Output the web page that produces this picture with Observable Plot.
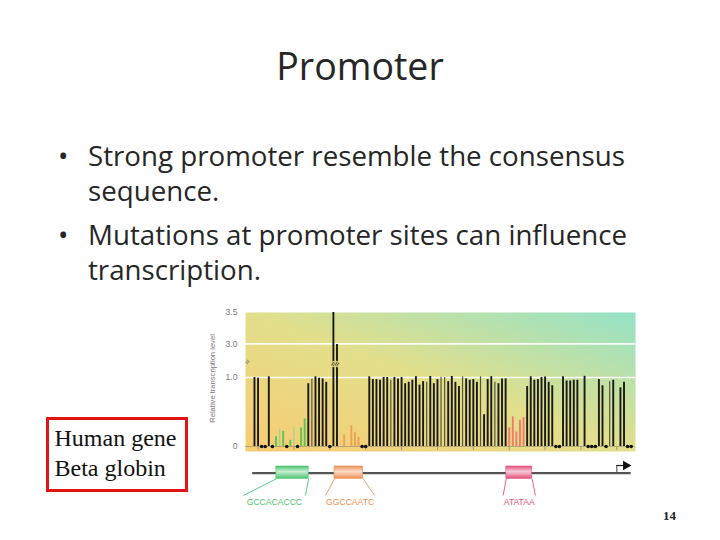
<!DOCTYPE html>
<html><head><meta charset="utf-8">
<script src="https://cdn.jsdelivr.net/npm/d3@7"></script>
<script src="https://cdn.jsdelivr.net/npm/@observablehq/plot@0.6"></script>
<style>
body{margin:0;width:720px;height:540px;position:relative;background:#fff;overflow:hidden;font-family:"Open Sans",sans-serif;color:#262626;}
#title{position:absolute;left:0;width:720px;top:46.7px;text-align:center;font-size:37.5px;line-height:37.5px;}
.bl{position:absolute;left:88px;font-size:27.7px;line-height:35px;white-space:nowrap;}
.bl .dot{position:absolute;left:-30px;top:0;}
#box{position:absolute;left:46px;top:417px;width:142px;height:75px;box-sizing:border-box;border:3.5px solid #e01414;font-family:"Liberation Serif",serif;font-size:24px;line-height:30px;padding:3px 0 0 5.5px;color:#111;white-space:nowrap;}
#chart{position:absolute;left:200px;top:300px;}
#gene{position:absolute;left:200px;top:452px;}
#pg{position:absolute;left:663px;top:509px;font-family:"Liberation Serif",serif;font-weight:bold;font-size:13px;line-height:13px;color:#222;}
</style></head>
<body>
<div id="title">Promoter</div>
<div class="bl" style="top:138.3px"><span class="dot">•</span>Strong promoter resemble the consensus<br>sequence.</div>
<div class="bl" style="top:216.6px"><span class="dot">•</span>Mutations at promoter sites can influence<br>transcription.</div>
<div id="box">Human gene<br>Beta globin</div>
<div id="chart"></div>
<div id="gene"></div>
<div id="pg">14</div>
<script>
// ---- data ----
// nucleotide positions upstream of the beta-globin transcription start
const positions = d3.range(-101, 5);
// relative transcription level of each point mutant (null = no bar)
const levels = [
  1.00, 0.99, null, null, 1.04, null, 0.14, 0.25, 0.22, null,
  0.09, 0.27, null, 0.27, 0.40, 0.91, 0.98, 1.04, 0.99, 0.98,
  0.93, null, 3.50, 2.96, 0.06, 0.17, 0.03, 0.30, 0.20, 0.13,
  null, null, 1.04, 0.97, 0.97, 0.96, 1.00, 1.00, 0.96, 1.00,
  0.98, 1.00, 0.91, 0.93, 0.96, 1.05, 0.89, 0.94, 0.93, 1.06,
  0.91, 0.97, 1.01, 1.00, 0.94, 1.06, 0.93, 0.87, 1.04, 0.98,
  0.96, 0.97, 0.93, 1.04, 0.46, 0.97, 1.05, 0.93, 0.91, 0.98,
  0.98, 0.27, 0.43, 0.21, 0.38, 0.42, 0.87, 1.04, 0.96, 0.97,
  1.00, 1.03, 0.93, 0.88, null, null, 1.05, 0.95, 0.95, 0.96,
  0.96, null, 1.07, null, null, null, 0.97, 0.88, null, 0.94,
  0.96, null, 0.85, 0.93, null, null
];
// positions with no mutant (black dots on the baseline)
const noMutant = [-99, -98, -96, -92, -89, -80, -71, -70, -17, -16, -8, -7, -6, -3, 3, 4];
// bars drawn fainter in the figure
const faint = [-94, -90, -85, -77, -75, -63, -53, -49, -48, -43, -38, -34, -2];
// broken bars (values beyond the axis break)
const broken = [-79, -78];
const yTicks = [0, 1.0, 3.0, 3.5];
const xTicks = [-100, -90, -80, -70, -60, -50, -40, -30, -20, -10, 0];
const yLabel = "Relative transcription level";

// promoter elements
const motifSeq   = ["GCCACACCC", "GGCCAATC", "ATATAA"];
const motifFrom  = [-95, -77, -30];     // mutated bases shown in colour
const motifTo    = [-87, -72, -26];
const boxFrom    = [-94.9, -78.7, -30.8];
const boxTo      = [-85.9, -70.7, -23.6];
const labelFrom  = [-104.1, -81.2, -31.7];
const labelTo    = [-86.8, -67.5, -22.7];
const motifColor = ["#4cc46e", "#ee8f52", "#e4517a"];
const barColor   = ["#5cc55a", "#f0a052", "#f27a6c"];
const geneFrom = -101.5, geneTo = 4, tss = 0;

// ---- build ----
const xDomain = [-103.5, 5.2];
const rows = positions.map((p, i) => ({pos: p, level: levels[i]})).filter(d => d.level != null);
function colorOf(p) {
  for (let k = 0; k < motifFrom.length; k++) if (p >= motifFrom[k] && p <= motifTo[k]) return barColor[k];
  return "#1a1a12";
}
rows.forEach(d => {
  d.faint = faint.includes(d.pos);
  const c = colorOf(d.pos);
  d.color = d.faint ? (c === "#1a1a12" ? "#55553f" : d3.interpolateRgb(c, "#ffffff")(0.35)) : c;
});
const normalRows = rows.filter(d => !d.faint);
const faintRows = rows.filter(d => d.faint);

// broken y axis: 0–1 and 3–3.5 shown, 1–3 compressed
const yBreak = d3.scaleLinear().domain([0, 1, 3, 3.5]).range([0, 1, 1.488, 1.942]);
const fmt = d => d === 0 ? "0" : d.toFixed(1);

function defs() {
  const s = d3.create("svg:defs");
  const g = s.append("linearGradient").attr("id", "bgGrad").attr("x1", 0).attr("y1", 1).attr("x2", 1).attr("y2", 0);
  g.append("stop").attr("offset", 0).attr("stop-color", "#f8cb72");
  g.append("stop").attr("offset", 0.5).attr("stop-color", "#e2df8c");
  g.append("stop").attr("offset", 1).attr("stop-color", "#94e2c8");
  motifColor.forEach((c, k) => {
    const m = s.append("linearGradient").attr("id", "mg" + k).attr("x1", 0).attr("y1", 0).attr("x2", 0).attr("y2", 1);
    m.append("stop").attr("offset", 0).attr("stop-color", c);
    m.append("stop").attr("offset", 0.45).attr("stop-color", d3.interpolateRgb(c, "#fff")(0.7));
    m.append("stop").attr("offset", 1).attr("stop-color", c);
  });
  return s.node();
}

const chart = Plot.plot({
  width: 445, height: 215,
  marginLeft: 45, marginRight: 10, marginTop: 12, marginBottom: 64,
  style: {fontFamily: "Liberation Sans, Arial, sans-serif", fontSize: "8px", color: "#7a7a7a", background: "transparent"},
  x: {domain: xDomain, axis: null},
  y: {transform: yBreak, domain: [0, 1.942], range: [146, 12], axis: null},
  marks: [
    defs,
    Plot.frame({fill: "url(#bgGrad)", stroke: "none"}),
    Plot.ruleY([1, 3], {stroke: "#ffffff", strokeWidth: 1.6, strokeOpacity: 0.9}),
    Plot.ruleY([0], {stroke: "#8c8c70", strokeWidth: 0.6}),
    Plot.ruleX(xTicks, {y1: 0, y2: -0.06, stroke: "#8a8a80", strokeWidth: 0.8}),
    Plot.ruleX(normalRows, {x: "pos", y1: 0, y2: "level", stroke: d => d.color, strokeWidth: 1.9}),
    Plot.ruleX(faintRows, {x: "pos", y1: 0, y2: "level", stroke: d => d.color, strokeWidth: 1.2}),
    Plot.dot(noMutant, {x: d => d, y: 0, r: 1.8, fill: "#111", stroke: "none"}),
    Plot.text(broken, {x: d => d, y: 1.8, text: () => "≈", rotate: -65, fontSize: 9, fill: "#111", stroke: "#e6dd8a", strokeWidth: 1.5, paintOrder: "stroke"}),
    Plot.text(["≈"], {frameAnchor: "left", y: 1.8, rotate: -65, fontSize: 8, fill: "#555", dx: 1}),
    Plot.text(yTicks, {y: d => d, text: fmt, frameAnchor: "left", textAnchor: "end", dx: -8, fontSize: 8.6, fill: "#7a7a7a"}),
    Plot.text([yLabel], {frameAnchor: "left", textAnchor: "middle", rotate: -90, dx: -33.3, dy: -3.5, fontSize: 7.6, fill: "#7a7a7a"})
  ]
});
document.getElementById("chart").appendChild(chart);

const motifs = motifSeq.map((s, k) => ({seq: s, b0: boxFrom[k], b1: boxTo[k], l0: labelFrom[k], l1: labelTo[k], mid: (labelFrom[k] + labelTo[k]) / 2, color: motifColor[k], fill: `url(#mg${k})`}));
const lineY = 20.7, boxTop = 14, boxBottom = 26.3, labelLineY = 43, labelY = 49.5, arrowY = 13;
const gene = Plot.plot({
  width: 445, height: 62,
  marginLeft: 45, marginRight: 10, marginTop: 0, marginBottom: 0,
  style: {fontFamily: "Liberation Sans, Arial, sans-serif", background: "transparent"},
  x: {domain: xDomain, axis: null},
  y: {domain: [0, 62], range: [0, 62], axis: null},
  marks: [
    Plot.ruleY([lineY], {x1: geneFrom, x2: geneTo, stroke: "#555", strokeWidth: 2.2}),
    ...motifs.map(m => Plot.rect([m], {x1: "b0", x2: "b1", y1: boxTop, y2: boxBottom, fill: m.fill, stroke: m.color, strokeWidth: 0.6})),
    ...motifs.map(m => Plot.link([m], {x1: "b0", y1: boxBottom, x2: "l0", y2: labelLineY, stroke: m.color, strokeWidth: 0.9})),
    ...motifs.map(m => Plot.link([m], {x1: "b1", y1: boxBottom, x2: "l1", y2: labelLineY, stroke: m.color, strokeWidth: 0.9})),
    ...motifs.map(m => Plot.text([m], {x: "mid", y: labelY, text: "seq", fill: m.color, fontSize: 8.6})),
    Plot.ruleX([tss], {y1: lineY, y2: arrowY, stroke: "#444", strokeWidth: 1}),
    Plot.ruleY([arrowY], {x1: tss, x2: tss + 2, stroke: "#222", strokeWidth: 1.2}),
    Plot.dot([tss], {x: d => d, y: arrowY, symbol: "triangle", rotate: 90, r: 3.6, fill: "#111", stroke: "none", dx: 9})
  ]
});
gene.insertBefore(defs(), gene.firstChild);
document.getElementById("gene").appendChild(gene);
</script>
</body></html>
